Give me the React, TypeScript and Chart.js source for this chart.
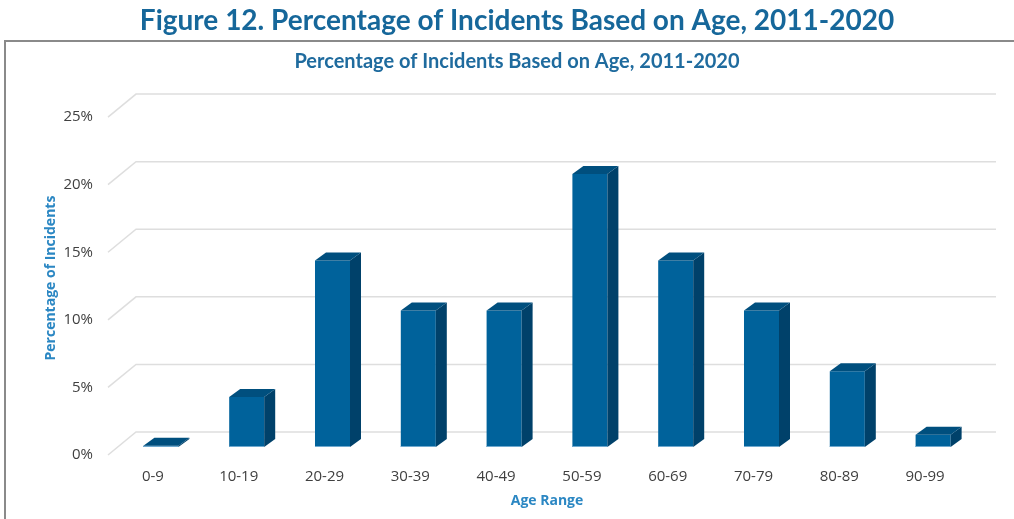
import { useEffect, useRef } from "react";
import { Chart, registerables } from "chart.js";

Chart.register(...registerables);

const figureTitle = "Figure 12. Percentage of Incidents Based on Age, 2011-2020";
const chartTitle = "Percentage of Incidents Based on Age, 2011-2020";
const xAxisTitle = "Age Range";
const yAxisTitle = "Percentage of Incidents";

const ageRanges = ["0-9", "10-19", "20-29", "30-39", "40-49", "50-59", "60-69", "70-79", "80-89", "90-99"];
const incidentPercentages = [0.1, 3.7, 13.8, 10.1, 10.1, 20.2, 13.8, 10.1, 5.6, 0.9];
const yTickValues = [0, 5, 10, 15, 20, 25];

const FRONT = "#00629b";
const SIDE = "#00416a";
const TOP = "#004f7e";
const EDGE = "#6fa9cf";

const BAR_DX = 11;
const BAR_DY = -8;

const boxPlugin = {
  id: "outerBox",
  beforeDraw(chart: any) {
    const { ctx } = chart;
    ctx.save();
    ctx.fillStyle = "#ffffff";
    ctx.fillRect(0, 0, chart.width, chart.height);
    ctx.strokeStyle = "#8a8a8a";
    ctx.lineWidth = 2;
    ctx.strokeRect(5, 41, chart.width + 20, chart.height + 20);
    ctx.restore();
  },
};

const gridPlugin = {
  id: "grid3d",
  beforeDatasetsDraw(chart: any) {
    const { ctx, chartArea } = chart;
    const y = chart.scales.y;
    ctx.save();
    ctx.strokeStyle = "#dedede";
    ctx.lineWidth = 1.5;
    for (const v of yTickValues) {
      const py = y.getPixelForValue(v);
      ctx.beginPath();
      ctx.moveTo(chartArea.left - 10, py + 8);
      ctx.lineTo(chartArea.left + 18, py - 15);
      ctx.lineTo(chartArea.right + 20, py - 15);
      ctx.stroke();
    }
    ctx.restore();
  },
};

const barFacesPlugin = {
  id: "barFaces",
  afterDatasetsDraw(chart: any) {
    const { ctx } = chart;
    const meta = chart.getDatasetMeta(0);
    ctx.save();
    meta.data.forEach((bar: any) => {
      const { x, y, base, width } = bar.getProps(["x", "y", "base", "width"], true);
      const l = x - width / 2;
      const r = x + width / 2;
      ctx.fillStyle = SIDE;
      ctx.beginPath();
      ctx.moveTo(r, y);
      ctx.lineTo(r + BAR_DX, y + BAR_DY);
      ctx.lineTo(r + BAR_DX, base + BAR_DY);
      ctx.lineTo(r, base);
      ctx.closePath();
      ctx.fill();
      ctx.fillStyle = TOP;
      ctx.beginPath();
      ctx.moveTo(l, y);
      ctx.lineTo(l + BAR_DX, y + BAR_DY);
      ctx.lineTo(r + BAR_DX, y + BAR_DY);
      ctx.lineTo(r, y);
      ctx.closePath();
      ctx.fill();
      ctx.strokeStyle = EDGE;
      ctx.lineWidth = 1;
      ctx.beginPath();
      ctx.moveTo(l, base - 0.5);
      ctx.lineTo(r, base - 0.5);
      ctx.stroke();
    });
    ctx.restore();
  },
};

export default function App() {
  const canvasRef = useRef<HTMLCanvasElement | null>(null);

  useEffect(() => {
    const canvas = canvasRef.current;
    if (!canvas) return;
    const chart = new Chart(canvas, {
      type: "bar",
      data: {
        labels: ageRanges,
        datasets: [
          {
            label: yAxisTitle,
            data: incidentPercentages,
            backgroundColor: FRONT,
            borderWidth: 0,
            barPercentage: 0.408,
            categoryPercentage: 1,
          },
        ],
      },
      options: {
        responsive: false,
        animation: false,
        devicePixelRatio: 1,
        layout: { padding: { left: 58, right: 38, top: 0, bottom: 0 } },
        plugins: {
          legend: { display: false },
          tooltip: { enabled: false },
          title: {
            display: true,
            text: figureTitle,
            color: "#16679a",
            font: { family: "Lato, 'Open Sans', sans-serif", size: 28, weight: "bold", lineHeight: 1.2 },
            padding: { top: 4, bottom: 3 },
          },
          subtitle: {
            display: true,
            text: chartTitle,
            color: "#1f6b9e",
            font: { family: "Lato, 'Open Sans', sans-serif", size: 20, weight: "bold", lineHeight: 1.2 },
            padding: { top: 9, bottom: 35.5 },
          },
        },
        scales: {
          x: {
            grid: { display: false, drawTicks: false },
            border: { display: false },
            ticks: {
              color: "#404040",
              font: { family: "'Open Sans', sans-serif", size: 15 },
              padding: 21,
              labelOffset: -8,
              maxRotation: 0,
            },
            title: {
              display: true,
              text: xAxisTitle,
              color: "#2b87c3",
              font: { family: "'Open Sans', sans-serif", size: 14, weight: "bold", lineHeight: 1.2 },
              padding: { top: 0, bottom: 10 },
            },
            afterFit(scale: any) {
              scale.height = 72;
            },
          },
          y: {
            min: 0,
            max: 25,
            grid: { display: false, drawTicks: false },
            border: { display: false },
            ticks: {
              stepSize: 5,
              color: "#404040",
              font: { family: "'Open Sans', sans-serif", size: 15 },
              padding: 25,
              labelOffset: 8,
              callback: (v: any) => `${v}%`,
            },
            title: {
              display: true,
              text: yAxisTitle,
              color: "#2b87c3",
              font: { family: "'Open Sans', sans-serif", size: 14, weight: "bold", lineHeight: 1.2 },
              padding: { top: -15, bottom: 0 },
            },
            afterFit(scale: any) {
              scale.width = 60;
            },
          },
        },
      },
      plugins: [boxPlugin, gridPlugin, barFacesPlugin],
    });
    return () => chart.destroy();
  }, []);

  return (
    <div style={{ position: "fixed", left: 0, top: 0, width: 1014, height: 519, background: "#fff" }}>
      <canvas ref={canvasRef} width={1014} height={519} style={{ display: "block" }} />
    </div>
  );
}
